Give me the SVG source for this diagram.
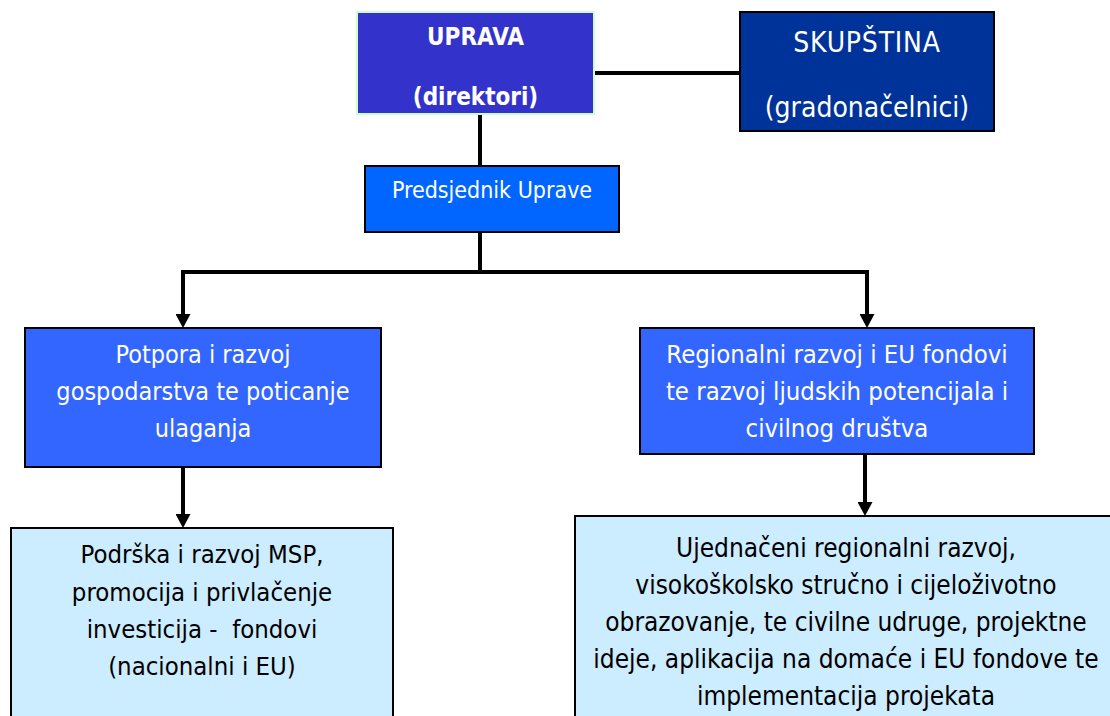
<svg xmlns="http://www.w3.org/2000/svg" width="1110" height="716" viewBox="0 0 1110 716">
<style>
text{font-family:"DejaVu Sans Condensed","DejaVu Sans",sans-serif;text-anchor:middle}
.w{fill:#fff}
.k{fill:#000}
.box{stroke:#000;stroke-width:2}
.ln{stroke:#000;stroke-width:4;fill:none}
</style>
<defs>
<marker id="ah" viewBox="0 0 14 15" refX="0" refY="7.5" markerWidth="14" markerHeight="15" orient="auto" markerUnits="userSpaceOnUse">
<path d="M0,0 L14,7.5 L0,15 Z" fill="#000"/>
</marker>
</defs>
<g id="connectors">
<line class="ln" x1="594" y1="73" x2="740" y2="73"/>
<line class="ln" x1="480" y1="114" x2="480" y2="166"/>
<line class="ln" x1="480" y1="232" x2="480" y2="272"/>
<path class="ln" d="M482,272 L183,272 L183,314" marker-end="url(#ah)"/>
<path class="ln" d="M478,272 L867,272 L867,314" marker-end="url(#ah)"/>
<line class="ln" x1="183" y1="467" x2="183" y2="514" marker-end="url(#ah)"/>
<line class="ln" x1="865" y1="454" x2="865" y2="502" marker-end="url(#ah)"/>
</g>
<g id="uprava">
<rect x="357" y="12" width="237" height="102" fill="#3333CC" stroke="#CCFFCC" stroke-width="2"/>
<text class="w" x="475.5" y="45" font-size="24" font-weight="bold">UPRAVA</text>
<text class="w" x="475.5" y="105" font-size="24" font-weight="bold">(direktori)</text>
</g>
<g id="skupstina">
<rect class="box" x="740" y="12" width="254" height="119" fill="#003399"/>
<text class="w" x="867" y="52" font-size="28" letter-spacing="0.8">SKUPŠTINA</text>
<text class="w" x="867" y="117" font-size="28">(gradonačelnici)</text>
</g>
<g id="predsjednik">
<rect class="box" x="365" y="166" width="254" height="66" fill="#0066FF"/>
<text class="w" x="492" y="198" font-size="23">Predsjednik Uprave</text>
</g>
<g id="potpora">
<rect class="box" x="25" y="328" width="356" height="139" fill="#3366FF"/>
<text class="w" x="203" y="363" font-size="25">Potpora i razvoj</text>
<text class="w" x="203" y="400" font-size="25">gospodarstva te poticanje</text>
<text class="w" x="203" y="437" font-size="25">ulaganja</text>
</g>
<g id="regionalni">
<rect class="box" x="640" y="328" width="394" height="126" fill="#3366FF"/>
<text class="w" x="837" y="363" font-size="25.5">Regionalni razvoj i EU fondovi</text>
<text class="w" x="837" y="400" font-size="25.5">te razvoj ljudskih potencijala i</text>
<text class="w" x="837" y="437" font-size="25.5">civilnog društva</text>
</g>
<g id="podrska">
<rect class="box" x="11" y="528" width="382" height="200" fill="#CCECFF"/>
<text class="k" x="202" y="563" font-size="25.5">Podrška i razvoj MSP,</text>
<text class="k" x="202" y="601" font-size="25.5">promocija i privlačenje</text>
<text class="k" x="202" y="638" font-size="25.5" xml:space="preserve">investicija -  fondovi</text>
<text class="k" x="202" y="675" font-size="25.5">(nacionalni i EU)</text>
</g>
<g id="ujednaceni">
<rect class="box" x="575" y="516" width="545" height="210" fill="#CCECFF"/>
<text class="k" x="846" y="557" font-size="26">Ujednačeni regionalni razvoj,</text>
<text class="k" x="846" y="594" font-size="26">visokoškolsko stručno i cijeloživotno</text>
<text class="k" x="846" y="631" font-size="26">obrazovanje, te civilne udruge, projektne</text>
<text class="k" x="846" y="668" font-size="26">ideje, aplikacija na domaće i EU fondove te</text>
<text class="k" x="846" y="705" font-size="26">implementacija projekata</text>
</g>
</svg>
